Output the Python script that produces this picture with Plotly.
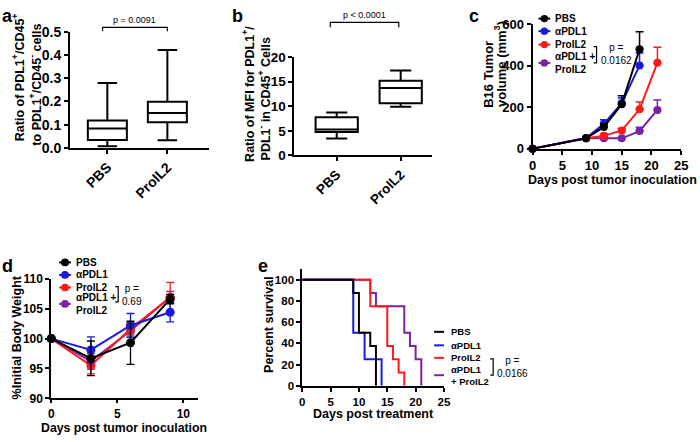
import plotly.graph_objects as go

W, H = 700, 442
def px(x): return x / W
def py(y): return 1 - y / H

FONT = "Liberation Sans, Arial, Helvetica, sans-serif"

# ---------------- data ----------------
box_groups = ["PBS", "ProIL2"]
# panel a: ratio PDL1+/CD45+ to PDL1+/CD45- cells
a_min = [0.006, 0.032]
a_q1 = [0.034, 0.110]
a_med = [0.083, 0.150]
a_q3 = [0.118, 0.199]
a_max = [0.280, 0.423]
a_p = "p = 0.0091"
# panel b: ratio of MFI
b_min = [3.46, 9.93]
b_q1 = [4.77, 10.6]
b_med = [5.3, 13.7]
b_q3 = [7.78, 15.2]
b_max = [8.76, 17.3]
b_p = "p < 0.0001"

groups = ["PBS", "αPDL1", "ProIL2", "αPDL1 +<br>ProIL2"]
colors = ["#000000", "#1a1adf", "#ff1a1a", "#7a22a6"]

# panel c: tumor volume
c_days = [[0, 9, 12, 15, 18], [0, 9, 12, 15, 18], [0, 9, 12, 15, 18, 21], [0, 9, 12, 15, 18, 21]]
c_vol = [[0, 50, 105, 215, 480], [0, 52, 120, 220, 402], [0, 50, 62, 88, 190, 415], [0, 50, 50, 50, 85, 187]]
c_err = [[0, 5, 15, 40, 85], [0, 5, 20, 25, 60], [0, 5, 10, 10, 35, 75], [0, 5, 8, 5, 18, 48]]
c_p = "p =<br>0.0162"

# panel d: body weight
d_days = [0, 3, 6, 9]
d_w = [[100, 96.7, 99.3, 106.6], [100, 98.1, 102.2, 104.4], [100, 95.5, 101.6, 106.9], [100, 96.2, 101.3, 106.9]]
d_err = [[0, 2.9, 3.6, 0.8], [0, 2.2, 2.0, 1.6], [0, 1.4, 1.0, 2.5], [0, 1.3, 1.0, 1.0]]
d_p = "p =<br>0.69"

# panel e: survival
e_t = [[0, 9, 10, 12, 13], [0, 9, 11, 14], [0, 12, 15, 16, 17, 18], [0, 12, 13, 18, 19, 20, 21]]
e_s = [[100, 87.5, 50, 37.5, 0], [100, 50, 25, 0], [100, 75, 37.5, 25, 12.5, 0], [100, 87.5, 75, 50, 37.5, 25, 0]]
e_groups = ["PBS", "αPDL1", "ProIL2", "αPDL1<br>+ ProIL2"]
e_p = "p =<br>0.0166"

fig = go.Figure()

# ---- panel a boxes
for i, g in enumerate(box_groups):
    fig.add_trace(go.Box(x=[i], q1=[a_q1[i]], median=[a_med[i]], q3=[a_q3[i]],
                         lowerfence=[a_min[i]], upperfence=[a_max[i]], width=0.65,
                         whiskerwidth=0.5, boxpoints=False, fillcolor="rgba(0,0,0,0)",
                         line=dict(color="black", width=2), name=g, showlegend=False,
                         xaxis="x", yaxis="y"))
# ---- panel b boxes
for i, g in enumerate(box_groups):
    fig.add_trace(go.Box(x=[i], q1=[b_q1[i]], median=[b_med[i]], q3=[b_q3[i]],
                         lowerfence=[b_min[i]], upperfence=[b_max[i]], width=0.66,
                         whiskerwidth=0.5, boxpoints=False, fillcolor="rgba(0,0,0,0)",
                         line=dict(color="black", width=2), name=g, showlegend=False,
                         xaxis="x2", yaxis="y2"))

order = [3, 2, 1, 0]
# ---- panel c
for i in order:
    fig.add_trace(go.Scatter(x=c_days[i], y=c_vol[i], mode="lines+markers",
                             line=dict(color=colors[i], width=2),
                             marker=dict(color=colors[i], size=8),
                             error_y=dict(type="data", array=c_err[i], symmetric=False,
                                          arrayminus=[0] * len(c_err[i]),
                                          color=colors[i], thickness=1.5, width=4),
                             cliponaxis=False, showlegend=False, xaxis="x3", yaxis="y3"))
# ---- panel d
for i in order:
    fig.add_trace(go.Scatter(x=d_days, y=d_w[i], mode="lines+markers",
                             line=dict(color=colors[i], width=2),
                             marker=dict(color=colors[i], size=9),
                             error_y=dict(type="data", array=d_err[i], color=colors[i],
                                          thickness=1.3, width=4),
                             cliponaxis=False, showlegend=False, xaxis="x4", yaxis="y4"))
# ---- panel e
for i in order:
    fig.add_trace(go.Scatter(x=e_t[i], y=e_s[i], mode="lines", line_shape="hv",
                             line=dict(color=colors[i], width=2),
                             cliponaxis=False, showlegend=False, xaxis="x5", yaxis="y5"))

def ax(dom, rng, fs, **kw):
    d = dict(domain=dom, range=rng, showline=True, linecolor="black", linewidth=1.8,
             ticks="outside", ticklen=4, tickwidth=1.6, tickcolor="black",
             showgrid=False, zeroline=False,
             tickfont=dict(family=FONT, size=fs, color="black", weight="bold"))
    d.update(kw)
    return d

fig.update_layout(
    width=W, height=H, margin=dict(l=0, r=0, t=0, b=0),
    paper_bgcolor="white", plot_bgcolor="white", showlegend=False,
    xaxis=ax([px(67), px(208)], [-0.623, 1.689], 14, tickvals=[0, 1], ticktext=box_groups,
             tickangle=-45, anchor="y"),
    yaxis=ax([py(145), py(25)], [0, 0.5], 14, dtick=0.1, tickformat=".1f", anchor="x"),
    xaxis2=ax([px(295), px(435)], [-0.662, 1.492], 13.5, tickvals=[0, 1], ticktext=box_groups,
              tickangle=-45, anchor="y2"),
    yaxis2=ax([py(153), py(51)], [0, 20], 13.5, dtick=5, anchor="x2"),
    xaxis3=ax([px(537), px(688)], [0, 25], 13, dtick=5, anchor="y3"),
    yaxis3=ax([py(146), py(17)], [0, 600], 13, dtick=200, anchor="x3"),
    xaxis4=ax([px(48), px(197)], [0, 11.1], 12, dtick=5, ticklen=3, anchor="y4"),
    yaxis4=ax([py(405), py(281)], [90, 110], 12, dtick=5, anchor="x4"),
    xaxis5=ax([px(303), px(447)], [0, 25], 11.5, dtick=5, anchor="y5"),
    yaxis5=ax([py(392), py(271)], [0, 110], 11.5, tickvals=[0, 20, 40, 60, 80, 100], anchor="x5"),
)

ann = []
shapes = []
def text(x, y, t, size, bold=True, angle=0, xanchor="center", align="center"):
    ann.append(dict(x=px(x), y=py(y), xref="paper", yref="paper", text=t, showarrow=False,
                    textangle=angle, xanchor=xanchor, yanchor="middle", align=align,
                    font=dict(family=FONT, size=size, color="black",
                              weight="bold" if bold else "normal")))

# panel labels
for lab, x, y in [("a", 4, 8), ("b", 237, 8), ("c", 478, 8), ("d", 4, 268), ("e", 263, 268)]:
    text(x, y, lab, 18)

# axis titles
text(15, 72, "Ratio of PDL1<sup>+</sup>/CD45<sup>+</sup>", 12.5, angle=-90)
text(32, 79, "to PDL1<sup>+</sup>/CD45<sup>-</sup> cells", 12.5, angle=-90)
text(248, 89, "Ratio of MFI for PDL1<sup>+</sup>/", 12.5, angle=-90)
text(264, 94, "PDL1<sup>-</sup> in CD45<sup>+</sup> Cells", 12.5, angle=-90)
text(492, 69, "B16 Tumor", 13, angle=-90)
text(504, 58, "volume (mm<sup>3</sup>)", 13, angle=-90)
text(530, 178, "Days post tumor inoculation", 12.5, xanchor="left")
text(13, 342, "%Initial Body Weight", 12.5, angle=-90)
text(122, 436, "Days post tumor inoculation", 12.3)
text(269, 328, "Percent survival", 12.5, angle=-90)
text(375, 421, "Days post treatment", 12.5)

# p-value brackets for a and b
def bracket_top(xref, x0, x1, ytop, ybot, label, ylab):
    shapes.append(dict(type="path", xref=xref, yref="paper",
                       path=f"M {x0},{py(ybot)} L {x0},{py(ytop)} L {x1},{py(ytop)} L {x1},{py(ybot)}",
                       line=dict(color="black", width=1.2)))
    ann.append(dict(x=(x0 + x1) / 2, y=py(ylab), xref=xref, yref="paper", text=label,
                    showarrow=False, xanchor="center", yanchor="middle",
                    font=dict(family=FONT, size=9, color="black")))
bracket_top("x", -0.08, 1, 20, 24, a_p, 12)
bracket_top("x2", -0.1, 0.97, 15, 20, b_p, 7)

# legends (c, d, e)
def legend_marker(x, ys, size_r, labels, tx, fs, bx, by0, by1, ptext, pys, marker=True, half=6):
    for i, y in enumerate(ys):
        shapes.append(dict(type="line", xref="paper", yref="paper",
                           x0=px(x - half), x1=px(x + half), y0=py(y), y1=py(y),
                           line=dict(color=colors[i], width=2)))
        if marker:
            shapes.append(dict(type="circle", xref="paper", yref="paper",
                               x0=px(x - size_r), x1=px(x + size_r), y0=py(y - size_r), y1=py(y + size_r),
                               fillcolor=colors[i], line=dict(color=colors[i], width=0)))
        text(tx, y, labels[i], fs, xanchor="left", align="left")
    shapes.append(dict(type="path", xref="paper", yref="paper",
                       path=f"M {px(bx-3)},{py(by0)} L {px(bx)},{py(by0)} L {px(bx)},{py(by1)} L {px(bx-3)},{py(by1)}",
                       line=dict(color="black", width=1.2)))
    ann.append(dict(x=px(bx + 2), y=py(pys), xref="paper", yref="paper", text=ptext,
                    showarrow=False, xanchor="left", yanchor="middle", align="center",
                    font=dict(family=FONT, size=10, color="black")))

legend_marker(549, [11, 24, 38, 57], 3.8, groups, 558, 10, 602, 40, 57, c_p, 48)
legend_marker(62, [264, 277, 290, 307], 4, groups, 71, 10, 116, 289, 305, d_p, 298)
legend_marker(442, [336, 350, 363, 381], 0, e_groups, 452, 9.5, 497, 364, 381, e_p, 372, marker=False, half=5)

fig.update_layout(annotations=ann, shapes=shapes)
fig.write_html("out.html", config={"displayModeBar": False},
               post_script="document.body.style.margin='0';document.body.style.padding='0';document.body.style.overflow='hidden';")
